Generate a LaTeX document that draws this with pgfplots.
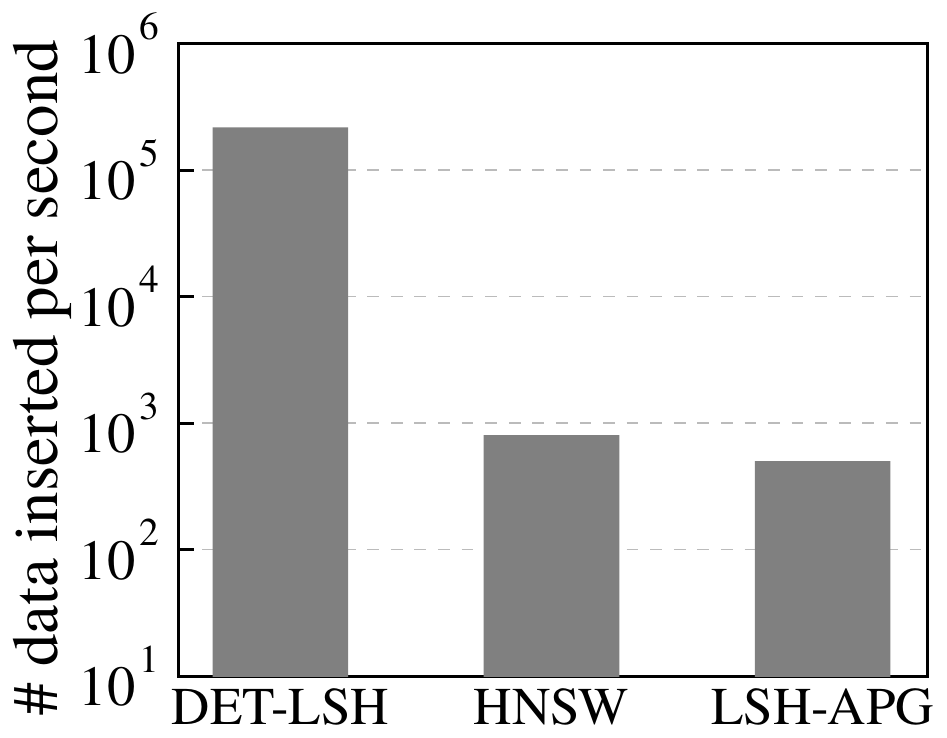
\documentclass[border=0pt]{standalone}
\usepackage{pgfplots}
\pgfplotsset{compat=1.18}
\usepackage{fontspec}
\setmainfont{TeX Gyre Termes}
\definecolor{bargray}{HTML}{808080}
\definecolor{gridgray}{HTML}{BBBBBB}
\newcommand\tenp[1]{10\kern1pt\raisebox{8.5pt}{\fontsize{10}{10}\selectfont #1}}

\begin{document}
\begin{tikzpicture}
\begin{axis}[
  scale only axis,
  width=190.5pt, height=161pt,
  ymode=log, log basis y=10,
  ymin=10, ymax=1e6,
  xmin=-0.375, xmax=2.386,
  xtick={0,1,2},
  xticklabels={DET-LSH,HNSW,LSH-APG},
  x tick style={draw=none},
  ytick={10,100,1000,10000,100000,1000000},
  yticklabels={\tenp{1},\tenp{2},\tenp{3},\tenp{4},\tenp{5},\tenp{6}},
  ytick pos=left,
  tick align=inside,
  major tick length=4pt,
  y tick style={line width=0.7pt,black},
  minor y tick num=0,
  ymajorgrids,
  grid style={gridgray,dashed,line width=0.4pt},
  axis line style={line width=0.7pt},
  yticklabel style={font=\fontsize{14.4}{14.4}\selectfont, xshift=-1.5pt},
  xticklabel style={font=\fontsize{13.5}{13.5}\selectfont, yshift=0.5pt},
  ylabel={\# data inserted per second},
  ylabel style={font=\fontsize{16.5}{16.5}\selectfont, yshift=-5pt, xshift=-4.5pt},
]
\addplot[ybar, bar width=0.5, fill=bargray, draw=none] coordinates {
  (0,218000) (1,805) (2,502)
};
\end{axis}
\end{tikzpicture}
\end{document}
